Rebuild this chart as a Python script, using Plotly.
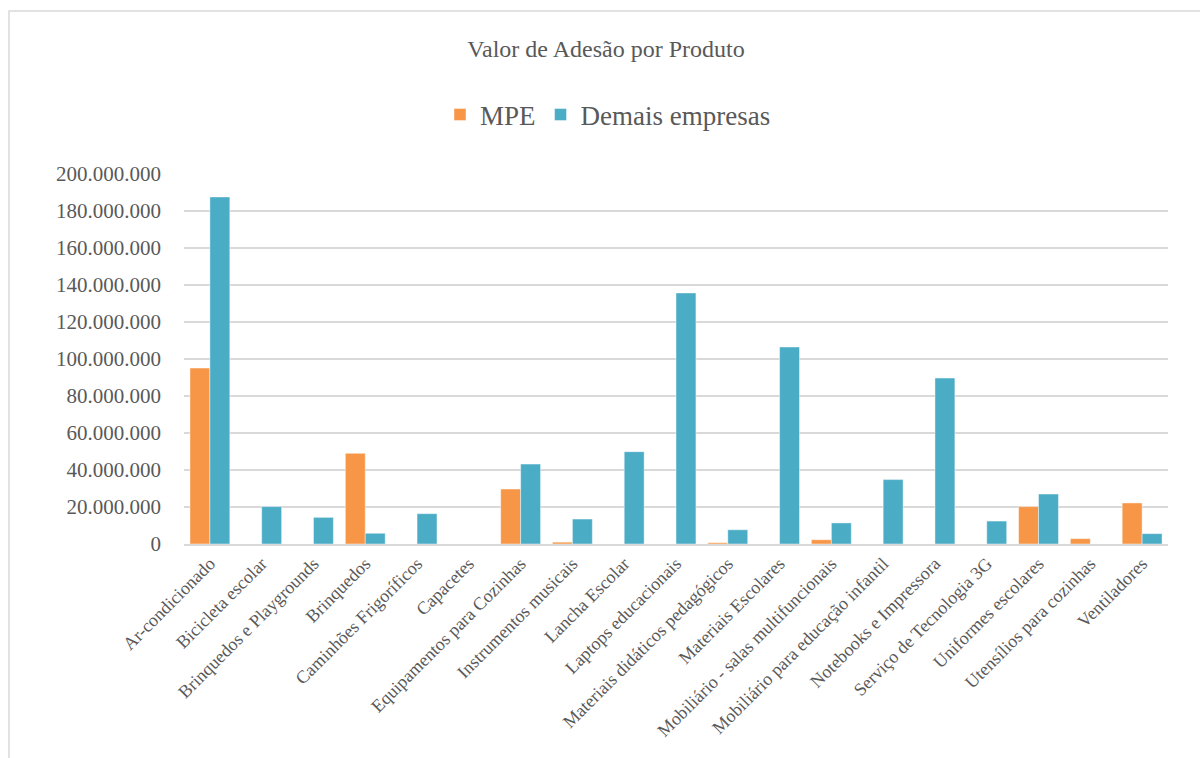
import plotly.graph_objects as go

categories = [
    "Ar-condicionado", "Bicicleta escolar", "Brinquedos e Playgrounds", "Brinquedos",
    "Caminhões Frigoríficos", "Capacetes", "Equipamentos para Cozinhas",
    "Instrumentos musicais", "Lancha Escolar", "Laptops educacionais",
    "Materiais didáticos pedagógicos", "Materiais Escolares",
    "Mobiliário - salas multifuncionais", "Mobiliário para educação infantil",
    "Notebooks e Impressora", "Serviço de Tecnologia 3G", "Uniformes escolares",
    "Utensílios para cozinhas", "Ventiladores",
]

mpe = [95_100_000, 0, 0, 49_000_000, 0, 0, 29_700_000, 1_000_000, 0, 0,
       700_000, 0, 2_300_000, 0, 0, 0, 20_200_000, 2_900_000, 22_200_000]
demais = [187_600_000, 20_200_000, 14_400_000, 5_800_000, 16_400_000, 0, 43_200_000,
          13_500_000, 49_900_000, 135_700_000, 7_700_000, 106_500_000, 11_400_000,
          34_800_000, 89_700_000, 12_400_000, 27_000_000, 0, 5_600_000]

y_ticks = [0, 20_000_000, 40_000_000, 60_000_000, 80_000_000, 100_000_000,
           120_000_000, 140_000_000, 160_000_000, 180_000_000, 200_000_000]

ORANGE = "#F79646"
BLUE = "#4BACC6"
TXT = "#595959"
FONT = "Liberation Serif"

fig = go.Figure()
fig.add_trace(go.Bar(name="MPE", x=categories, y=mpe, marker_color=ORANGE,
                     marker_line=dict(color="rgba(255,255,255,0.6)", width=0.75)))
fig.add_trace(go.Bar(name="Demais empresas", x=categories, y=demais, marker_color=BLUE,
                     marker_line=dict(color="rgba(255,255,255,0.6)", width=0.75)))

L, R, T, B = 184, 32, 174, 214
W, H = 1200, 758
pw, ph = W - L - R, H - T - B

fig.update_layout(
    width=W, height=H,
    margin=dict(l=L, r=R, t=T, b=B),
    paper_bgcolor="white", plot_bgcolor="white",
    separators=",.",
    barmode="group", bargap=0.23, bargroupgap=0,
    font=dict(family=FONT, color=TXT),
    title=dict(text="Valor de Adesão por Produto", x=606 / W, xanchor="center",
               xref="container", y=1 - 49 / H, yanchor="middle", yref="container",
               font=dict(family=FONT, size=24, color=TXT)),
    legend=dict(orientation="h", xref="container", x=608 / W, xanchor="center",
                yref="container", y=1 - 115 / H, yanchor="middle",
                font=dict(family=FONT, size=27, color=TXT),
                entrywidth=0, traceorder="normal", itemwidth=30),
    showlegend=True,
    xaxis=dict(tickangle=-45, tickfont=dict(family=FONT, size=18, color=TXT),
               showline=True, linecolor="#d9d9d9", linewidth=2, ticks="",
               showgrid=False),
    yaxis=dict(range=[0, 200_000_000], tickvals=y_ticks, tickformat=",d",
               showgrid=True, gridcolor="#d9d9d9", gridwidth=1.5,
               zeroline=False, showline=False,
               ticklabelstandoff=22,
               tickfont=dict(family=FONT, size=21, color=TXT)),
)

# chart-area frame (cropped at right and bottom)
fig.add_shape(type="rect", xref="paper", yref="paper",
              x0=(9 - L) / pw, x1=(W + 20 - L) / pw,
              y0=-(H + 20 - (H - B)) / ph, y1=(H - B - 11) / ph,
              line=dict(color="#d9d9d9", width=1.5), fillcolor="rgba(0,0,0,0)",
              layer="below")

fig.write_html("out.html")
